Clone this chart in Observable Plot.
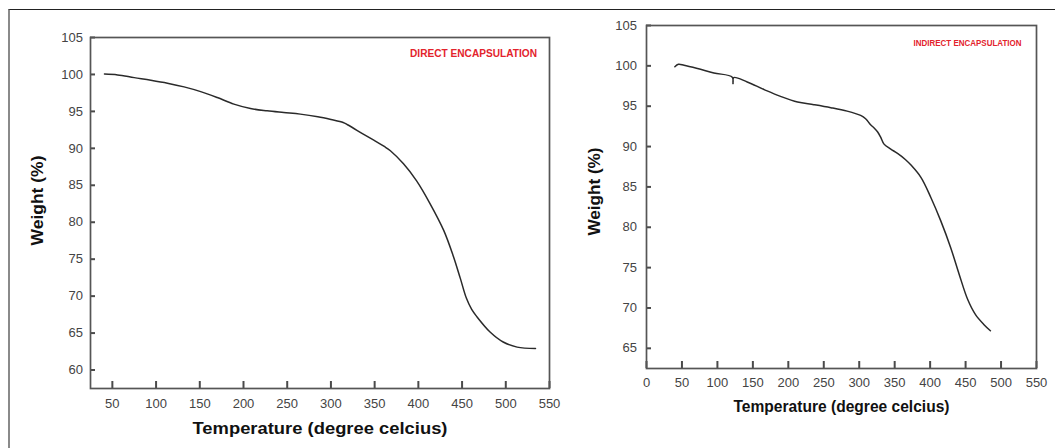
<!DOCTYPE html>
<html>
<head>
<meta charset="utf-8">
<script src="https://cdn.jsdelivr.net/npm/d3@7"></script>
<script src="https://cdn.jsdelivr.net/npm/@observablehq/plot@0.6"></script>
<style>
  html, body { margin: 0; padding: 0; background: #fff; }
  #wrap { position: relative; width: 1055px; height: 448px; overflow: hidden; background: #fff; }
  #border { position: absolute; left: 8px; top: 9px; right: -5px; height: 460px;
            border-top: 1px solid #222; border-left: 2px solid #8a8a8a; }
  #left { position: absolute; left: 0; top: 0; }
  #right { position: absolute; left: 560px; top: 0; }
</style>
</head>
<body>
<div id="wrap">
  <div id="border"></div>
  <div id="left"></div>
  <div id="right"></div>
</div>
<script>
// ---- Data: DIRECT ENCAPSULATION ----
const directTemp = [41, 56, 75, 94, 113, 132, 151, 170, 189, 208, 227, 246, 265, 285, 300, 314, 319, 337, 349, 361, 368, 383, 398, 413, 429, 440, 448, 455, 461, 467, 482, 497, 513, 534];
const directWeight = [100.05, 99.94, 99.57, 99.22, 98.82, 98.32, 97.68, 96.87, 95.98, 95.39, 95.08, 94.85, 94.63, 94.27, 93.9, 93.5, 93.19, 91.93, 91.1, 90.25, 89.67, 87.9, 85.6, 82.6, 78.9, 75.4, 72.4, 69.7, 68.2, 67.2, 65.14, 63.79, 63.1, 62.9];

// ---- Data: INDIRECT ENCAPSULATION ----
const indirectTemp = [40, 45, 53, 72, 95, 121, 122, 123, 142, 166, 189, 213, 236, 260, 283, 302, 309, 316, 321, 326, 330, 335, 344, 354, 365, 373, 387, 401, 415, 429, 441, 453, 464, 476, 485];
const indirectWeight = [99.9, 100.2, 100.08, 99.67, 99.12, 98.6, 97.8, 98.55, 98.0, 97.06, 96.22, 95.51, 95.19, 94.82, 94.39, 93.86, 93.45, 92.7, 92.3, 91.8, 91.2, 90.3, 89.71, 89.15, 88.4, 87.7, 86.18, 83.69, 80.79, 77.47, 74.15, 71.04, 69.17, 67.93, 67.18];

// ---- Ticks & labels ----
const leftXTicks = [50, 100, 150, 200, 250, 300, 350, 400, 450, 500, 550];
const leftYTicks = [60, 65, 70, 75, 80, 85, 90, 95, 100, 105];
const rightXTicks = [0, 50, 100, 150, 200, 250, 300, 350, 400, 450, 500, 550];
const rightYTicks = [65, 70, 75, 80, 85, 90, 95, 100, 105];
const xLabel = "Temperature (degree celcius)";
const yLabel = "Weight (%)";
const leftTitle = "DIRECT ENCAPSULATION";
const rightTitle = "INDIRECT ENCAPSULATION";

const directData = directTemp.map((t, i) => ({t, w: directWeight[i]}));
const indirectData = indirectTemp.map((t, i) => ({t, w: indirectWeight[i]}));

const font = "'Liberation Sans', Arial, Helvetica, sans-serif";

function makeChart(cfg) {
  const H = 448;
  const frameW = cfg.width - cfg.ml - cfg.mr;
  const frameH = H - cfg.mt - cfg.mb;
  const svg = Plot.plot({
    width: cfg.width, height: H,
    marginLeft: cfg.ml, marginRight: cfg.mr, marginTop: cfg.mt, marginBottom: cfg.mb,
    x: {domain: cfg.xDomain},
    y: {domain: cfg.yDomain},
    style: {fontFamily: font, background: "transparent", overflow: "visible"},
    marks: [
      Plot.axisX(cfg.xTicks, {tickSize: 0, tickPadding: cfg.xPad, fontSize: 13, fill: "#444", label: null, tickFormat: d => String(d)}),
      Plot.axisY(cfg.yTicks, {tickSize: 0, tickPadding: cfg.yPad, fontSize: 13, fill: "#444", label: null, tickFormat: d => String(d)}),
      // inward tick marks
      Plot.tickX(cfg.xTicks, {x: d => d, insetTop: frameH - 7, stroke: "#4a4a4a", strokeWidth: 2}),
      Plot.tickY(cfg.yTicks, {y: d => d, insetRight: frameW - 5, stroke: "#4a4a4a", strokeWidth: 2}),
      Plot.frame({stroke: "#555", strokeWidth: 1.7}),
      Plot.line(cfg.data, {x: "t", y: "w", stroke: "#2a2a2a", strokeWidth: 1.5, curve: "catmull-rom"}),
      Plot.text([cfg.title], {frameAnchor: "top-right", textAnchor: "end", lineAnchor: "middle", dx: cfg.tdx, dy: cfg.tdy, fill: "#e3232c", fontWeight: "bold", fontSize: cfg.tSize, fontFamily: "'Liberation Sans Narrow', 'Arial Narrow', " + font}),
      Plot.text([xLabel], {frameAnchor: "bottom", textAnchor: "middle", lineAnchor: "bottom", dy: cfg.xldy, fill: "#111", fontWeight: "bold", fontSize: 16.5}),
      Plot.text([yLabel], {frameAnchor: "left", textAnchor: "middle", lineAnchor: "middle", rotate: -90, dx: cfg.yldx, dy: cfg.yldy, fill: "#111", fontWeight: "bold", fontSize: 17})
    ]
  });
  const sel = d3.select(svg).selectAll("text");
  const fit = (str, len) => sel.filter(function() { return this.textContent === str; })
    .attr("textLength", len).attr("lengthAdjust", "spacingAndGlyphs");
  fit(cfg.title, cfg.tLen);
  fit(xLabel, cfg.xlLen);
  fit(yLabel, cfg.ylLen);
  return svg;
}

document.getElementById("left").appendChild(makeChart({
  width: 560, ml: 90, mr: 11, mt: 37, mb: 60,
  xDomain: [25, 550], yDomain: [57.5, 105],
  xTicks: leftXTicks, yTicks: leftYTicks, xPad: 10, yPad: 7.5,
  data: directData,
  title: leftTitle, tdx: -12.5, tdy: 16.5, tSize: 10.5, tLen: 127,
  xldy: 45, xlLen: 255,
  yldx: -53, yldy: -12.5, ylLen: 90
}));

document.getElementById("right").appendChild(makeChart({
  width: 495, ml: 86, mr: 19, mt: 25, mb: 80,
  xDomain: [0, 550], yDomain: [62.5, 105],
  xTicks: rightXTicks, yTicks: rightYTicks, xPad: 9, yPad: 9.5,
  data: indirectData,
  title: rightTitle, tdx: -15, tdy: 17, tSize: 9.5, tLen: 108,
  xldy: 43.5, xlLen: 216,
  yldx: -52, yldy: -5.5, ylLen: 88
}));
</script>
</body>
</html>
